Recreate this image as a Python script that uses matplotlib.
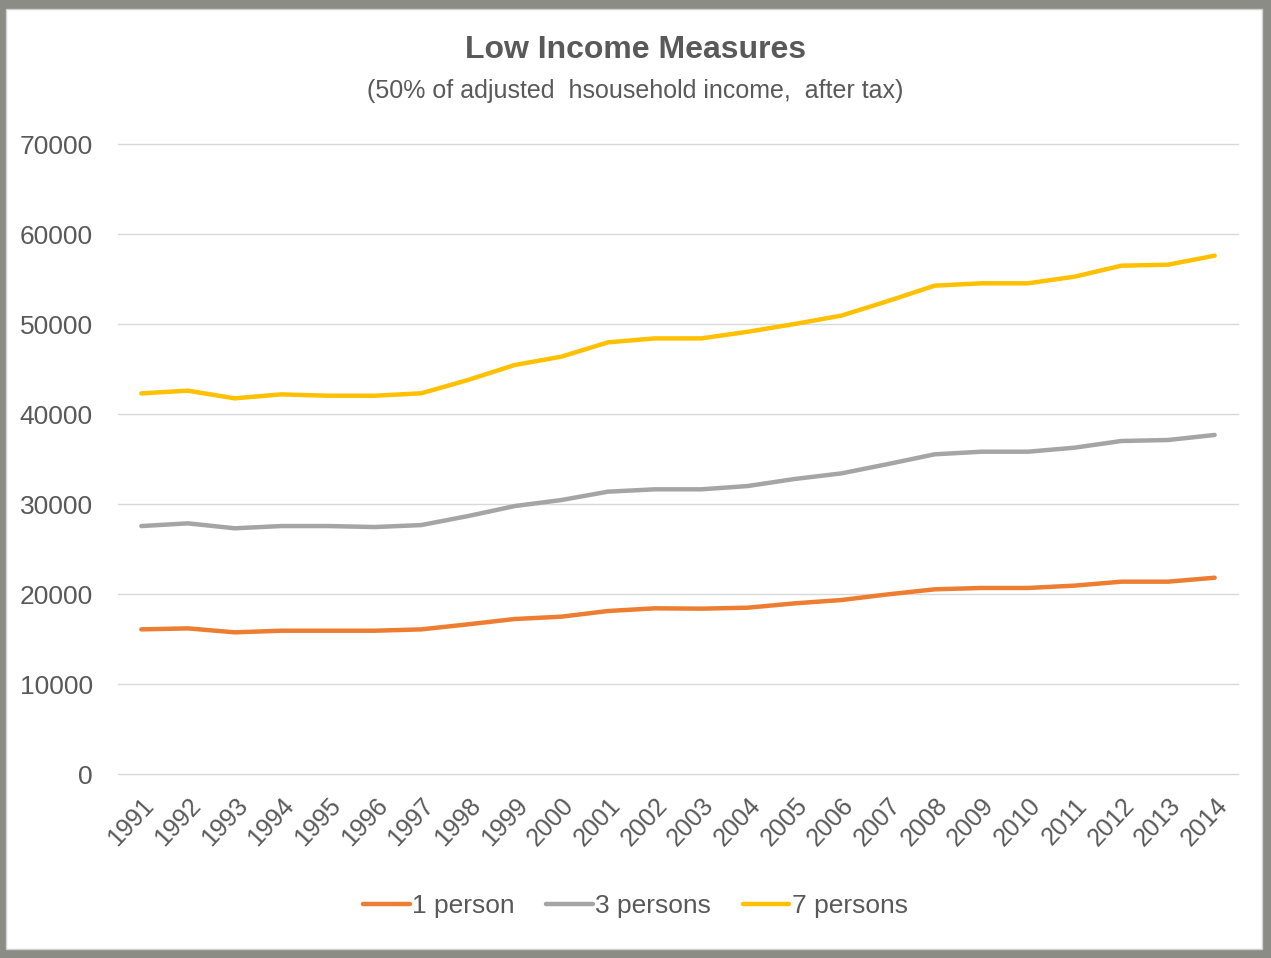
import matplotlib
matplotlib.use("Agg")
import matplotlib.pyplot as plt
from matplotlib.patches import Rectangle

plt.rcParams['font.family'] = ['Liberation Sans', 'DejaVu Sans']

years = list(range(1991, 2015))
one_person = [16070, 16180, 15740, 15920, 15920, 15920, 16070, 16630, 17220, 17480,
              18110, 18410, 18370, 18480, 18960, 19330, 19960, 20520, 20670, 20670,
              20930, 21370, 21370, 21810]
three_persons = [27550, 27850, 27300, 27550, 27550, 27440, 27660, 28660, 29770, 30440,
                 31370, 31630, 31630, 32000, 32780, 33400, 34440, 35520, 35810, 35810,
                 36260, 37000, 37110, 37670]
seven_persons = [42290, 42590, 41740, 42180, 42030, 42030, 42300, 43780, 45440, 46370,
                 47960, 48400, 48400, 49140, 50000, 50930, 52550, 54260, 54520, 54520,
                 55260, 56480, 56590, 57590]
yticks = [0, 10000, 20000, 30000, 40000, 50000, 60000, 70000]

txt = '#595959'
fig = plt.figure(figsize=(12.71, 9.58), dpi=100, facecolor='#8c8c86')
fig.patches.append(Rectangle((6 / 1271, 9 / 958), 1256 / 1271, 940 / 958,
                             transform=fig.transFigure, facecolor='white',
                             edgecolor='#d0d0d0', lw=1, zorder=-10))

ax = fig.add_axes([118 / 1271, 1 - 774 / 958, 1120 / 1271, 630 / 958])
ax.set_facecolor('white')
x = range(len(years))
ax.plot(x, one_person, color='#ED7D31', lw=3.2, solid_capstyle='round', label='1 person')
ax.plot(x, three_persons, color='#A5A5A5', lw=3.2, solid_capstyle='round', label='3 persons')
ax.plot(x, seven_persons, color='#FFC000', lw=3.2, solid_capstyle='round', label='7 persons')

ax.set_ylim(0, 70000)
ax.set_xlim(-0.5, len(years) - 0.5)
ax.set_yticks(yticks)
ax.set_yticklabels([str(v) for v in yticks], fontsize=19, color=txt)
ax.set_xticks(list(x))
ax.set_xticklabels([str(y) for y in years], rotation=47, ha='right', va='top',
                   rotation_mode='anchor', fontsize=18, color=txt)
ax.grid(axis='y', color='#d9d9d9', lw=1)
for gl in ax.get_ygridlines():
    gl.set_clip_on(False)
ax.set_axisbelow(True)
for s in ['top', 'right', 'left', 'bottom']:
    ax.spines[s].set_visible(False)
ax.tick_params(axis='both', length=0)
ax.tick_params(axis='y', pad=18)
ax.tick_params(axis='x', pad=14)

fig.text(0.5, 1 - 50 / 958, 'Low Income Measures', ha='center', va='center',
         fontsize=23, fontweight='bold', color=txt)
fig.text(0.5, 1 - 91 / 958, '(50% of adjusted  hsousehold income,  after tax)',
         ha='center', va='center', fontsize=18, color=txt)

leg = fig.legend(loc='center', bbox_to_anchor=(0.5, 1 - 906 / 958), ncol=3,
                 frameon=False, fontsize=19, handlelength=1.75, handletextpad=0.1,
                 columnspacing=1.2)
for t in leg.get_texts():
    t.set_color(txt)

fig.savefig('out.png', dpi=100, facecolor=fig.get_facecolor())
